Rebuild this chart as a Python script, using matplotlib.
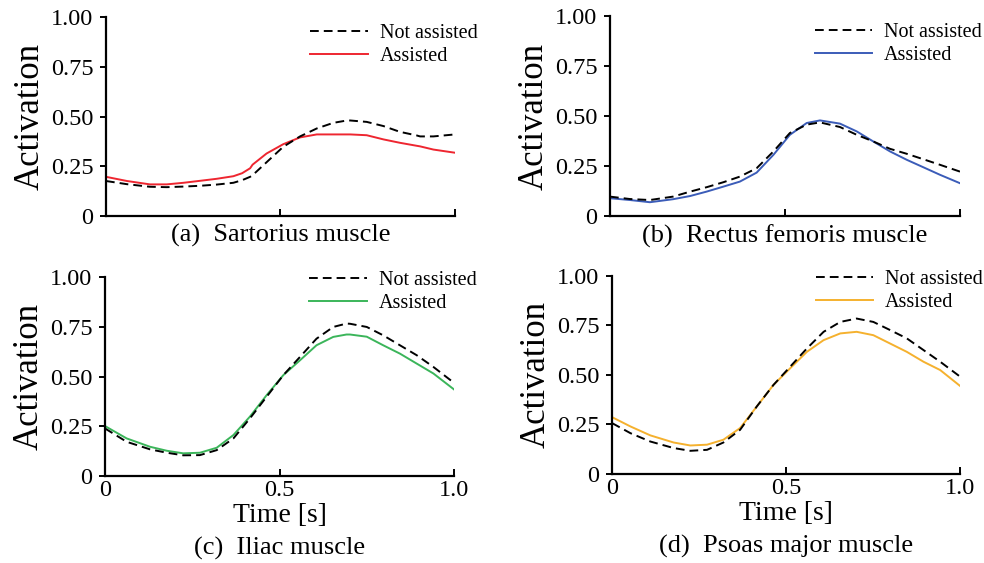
import matplotlib
matplotlib.use("Agg")
import matplotlib.pyplot as plt

plt.rcParams["font.family"] = ["Liberation Serif", "DejaVu Serif"]

# Time samples [s] and muscle activation for each muscle
t_a = [0.0, 0.06, 0.126, 0.174, 0.222, 0.27, 0.317, 0.365, 0.39, 0.413, 0.42, 0.46,
       0.508, 0.556, 0.604, 0.651, 0.69, 0.7, 0.747, 0.795, 0.842, 0.89, 0.9, 0.938, 1.0]
sart_not = [0.176, 0.16, 0.147, 0.145, 0.148, 0.152, 0.158, 0.167, 0.18, 0.197, 0.205, 0.27,
            0.348, 0.40, 0.44, 0.468, 0.48, 0.48, 0.473, 0.452, 0.423, 0.405, 0.40, 0.40, 0.41]
sart_ast = [0.197, 0.176, 0.159, 0.159, 0.167, 0.177, 0.187, 0.20, 0.215, 0.24, 0.258, 0.314,
            0.361, 0.395, 0.41, 0.41, 0.41, 0.41, 0.406, 0.385, 0.368, 0.353, 0.35, 0.334, 0.318]

t_b = [0.0, 0.057, 0.114, 0.18, 0.229, 0.276, 0.324, 0.371, 0.419, 0.467, 0.514, 0.562,
       0.6, 0.657, 0.705, 0.752, 0.8, 0.848, 0.895, 0.943, 1.0]
rect_not = [0.097, 0.085, 0.08, 0.097, 0.122, 0.144, 0.169, 0.197, 0.239, 0.323, 0.415, 0.457,
            0.468, 0.445, 0.406, 0.373, 0.336, 0.311, 0.284, 0.256, 0.222]
rect_ast = [0.089, 0.08, 0.069, 0.084, 0.10, 0.122, 0.147, 0.172, 0.217, 0.306, 0.406, 0.465,
            0.478, 0.462, 0.423, 0.373, 0.323, 0.281, 0.244, 0.206, 0.164]

t_c = [0.0, 0.062, 0.129, 0.177, 0.224, 0.272, 0.32, 0.368, 0.415, 0.463, 0.511, 0.559,
       0.606, 0.654, 0.692, 0.702, 0.75, 0.797, 0.845, 0.893, 0.941, 1.0]
iliac_not = [0.239, 0.172, 0.134, 0.117, 0.104, 0.105, 0.13, 0.189, 0.289, 0.398, 0.507, 0.599,
             0.69, 0.749, 0.766, 0.765, 0.749, 0.707, 0.657, 0.607, 0.548, 0.468]
iliac_ast = [0.251, 0.189, 0.147, 0.127, 0.114, 0.117, 0.142, 0.206, 0.298, 0.406, 0.507, 0.582,
             0.657, 0.699, 0.711, 0.711, 0.70, 0.657, 0.615, 0.565, 0.515, 0.435]

t_d = [0.0, 0.053, 0.11, 0.177, 0.225, 0.273, 0.32, 0.368, 0.416, 0.464, 0.512, 0.56,
       0.608, 0.656, 0.703, 0.751, 0.799, 0.847, 0.895, 0.943, 1.0]
psoas_not = [0.257, 0.206, 0.164, 0.131, 0.117, 0.122, 0.159, 0.223, 0.341, 0.45, 0.542, 0.634,
             0.718, 0.768, 0.785, 0.768, 0.727, 0.685, 0.626, 0.567, 0.492]
psoas_ast = [0.287, 0.24, 0.195, 0.159, 0.144, 0.148, 0.173, 0.232, 0.341, 0.45, 0.534, 0.617,
             0.676, 0.71, 0.718, 0.701, 0.659, 0.617, 0.567, 0.525, 0.445]

captions = ["(a)  Sartorius muscle", "(b)  Rectus femoris muscle",
            "(c)  Iliac muscle", "(d)  Psoas major muscle"]
colors = ["#ee2630", "#3b5cb8", "#3bb55a", "#f5b12e"]
y_ticks = [0, 0.25, 0.5, 0.75, 1.0]
y_ticklabels = ["0", "0.25", "0.50", "0.75", "1.00"]
x_ticks = [0, 0.5, 1.0]
x_ticklabels = ["0", "0.5", "1.0"]

panels = [
    (t_a, sart_not, sart_ast),
    (t_b, rect_not, rect_ast),
    (t_c, iliac_not, iliac_ast),
    (t_d, psoas_not, psoas_ast),
]

fig = plt.figure(figsize=(9.84, 5.63), dpi=100)
rects = [
    [0.1077, 0.6163, 0.3547, 0.3535],
    [0.6199, 0.6163, 0.3557, 0.3553],
    [0.1067, 0.1545, 0.3547, 0.3535],
    [0.6220, 0.1581, 0.3536, 0.3517],
]
legend_top = [0.965, 0.965, 1.03, 1.03]

for i, ((t, y_not, y_ast), rect) in enumerate(zip(panels, rects)):
    ax = fig.add_axes(rect)
    ax.plot(t, y_not, color="black", lw=1.4, linestyle=(0, (4.5, 2.6)),
            label="Not assisted", zorder=3)
    ax.plot(t, y_ast, color=colors[i], lw=1.4, label="Assisted", zorder=2)
    ax.set_xlim(0, 1.0)
    ax.set_ylim(0, 1.0)
    for side in ("top", "right"):
        ax.spines[side].set_visible(False)
    for side in ("left", "bottom"):
        ax.spines[side].set_linewidth(1.6)
    ax.set_yticks(y_ticks)
    ax.set_yticklabels(y_ticklabels)
    ax.set_xticks(x_ticks)
    ax.tick_params(axis="y", direction="out", length=4, width=1.4, pad=5, labelsize=17.5)
    ax.tick_params(axis="x", direction="in", length=5, width=1.4, pad=3, labelsize=17.5)
    ax.set_ylabel("Activation", fontsize=25, labelpad=3)
    if i >= 2:
        ax.set_xticklabels(x_ticklabels)
        ax.set_xlabel("Time [s]", fontsize=20, labelpad=1)
        ax.text(0.5, -0.365, captions[i], transform=ax.transAxes, ha="center",
                va="center", fontsize=19)
    else:
        ax.set_xticklabels([])
        ax.text(0.5, -0.1, captions[i], transform=ax.transAxes, ha="center",
                va="center", fontsize=19)
    ax.legend(loc="upper left", bbox_to_anchor=(0.585, legend_top[i]), frameon=False,
              borderpad=0, borderaxespad=0, handlelength=2.85, handletextpad=0.6,
              labelspacing=0.2, fontsize=14.5)

fig.savefig("out.png", dpi=100)
